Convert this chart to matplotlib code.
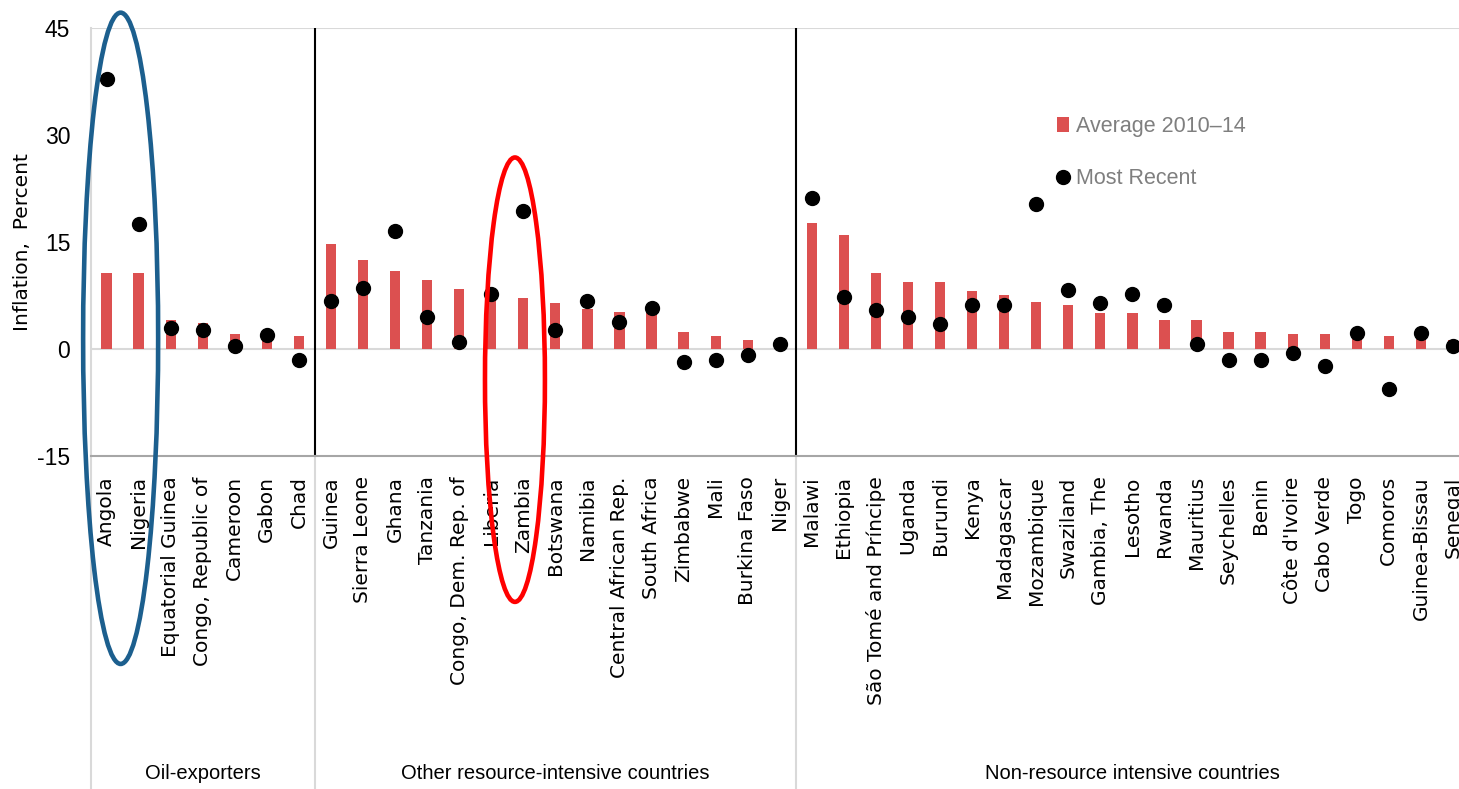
import matplotlib.pyplot as plt
import matplotlib.transforms as mtransforms
from matplotlib.patches import Ellipse

plt.rcParams["axes.unicode_minus"] = False

# Country groups and values (percent)
oil = ["Angola", "Nigeria", "Equatorial Guinea", "Congo, Republic of", "Cameroon", "Gabon", "Chad"]
avg_oil = [10.6, 10.6, 4.0, 3.7, 2.1, 2.0, 1.8]
recent_oil = [37.9, 17.5, 2.9, 2.6, 0.4, 2.0, -1.5]

other = ["Guinea", "Sierra Leone", "Ghana", "Tanzania", "Congo, Dem. Rep. of", "Liberia", "Zambia",
         "Botswana", "Namibia", "Central African Rep.", "South Africa", "Zimbabwe", "Mali",
         "Burkina Faso", "Niger"]
avg_other = [14.7, 12.5, 10.9, 9.7, 8.4, 7.6, 7.2, 6.5, 5.6, 5.2, 5.1, 2.4, 1.8, 1.2, 0.5]
recent_other = [6.7, 8.6, 16.5, 4.5, 1.0, 7.7, 19.3, 2.6, 6.7, 3.8, 5.75, -1.85, -1.5, -0.9, 0.7]

nonres = ["Malawi", "Ethiopia", "São Tomé and Príncipe", "Uganda", "Burundi", "Kenya", "Madagascar",
          "Mozambique", "Swaziland", "Gambia, The", "Lesotho", "Rwanda", "Mauritius", "Seychelles",
          "Benin", "Côte d'Ivoire", "Cabo Verde", "Togo", "Comoros", "Guinea-Bissau", "Senegal"]
avg_nonres = [17.6, 16.0, 10.6, 9.35, 9.35, 8.1, 7.5, 6.55, 6.2, 5.0, 5.0, 4.0, 4.0, 2.45, 2.45,
              2.1, 2.1, 1.8, 1.8, 1.8, 1.2]
recent_nonres = [21.2, 7.35, 5.4, 4.5, 3.5, 6.1, 6.1, 20.3, 8.3, 6.4, 7.7, 6.1, 0.7, -1.5, -1.5,
                 -0.55, -2.45, 2.3, -5.6, 2.3, 0.4]

group_names = ["Oil-exporters", "Other resource-intensive countries", "Non-resource intensive countries"]

countries = oil + other + nonres
avg = avg_oil + avg_other + avg_nonres
recent = recent_oil + recent_other + recent_nonres
sizes = [len(oil), len(other), len(nonres)]
x = list(range(len(countries)))

arial = "Liberation Sans"

fig = plt.figure(figsize=(14.59, 7.89), dpi=100)
ax = fig.add_axes([90.5 / 1459, 1 - 456 / 789, 1378.5 / 1459, 428 / 789])

bars = ax.bar(x, avg, width=0.32, color="#DC5050", zorder=2)
dots, = ax.plot(x, recent, "o", color="black", markersize=10, zorder=3)

ax.set_xlim(-0.5, len(countries) - 0.5)
ax.set_ylim(-15, 45)
ax.set_yticks([-15, 0, 15, 30, 45])
ax.axhline(0, color="#D9D9D9", lw=1.5, zorder=1)
ax.axhline(45, color="#D9D9D9", lw=1.5, zorder=1)

for s in ["top", "right"]:
    ax.spines[s].set_visible(False)
ax.spines["left"].set_color("#D9D9D9")
ax.spines["left"].set_linewidth(1.5)
ax.spines["bottom"].set_color("#A6A6A6")
ax.spines["bottom"].set_linewidth(1.5)

ax.tick_params(axis="y", length=0, pad=14.5)
ax.tick_params(axis="x", length=0, pad=14.5)
for t in ax.get_yticklabels():
    t.set_family(arial)
    t.set_fontsize(16.5)
ax.set_xticks(x)
ax.set_xticklabels(countries, rotation=90, fontsize=14.5, family="DejaVu Sans")

# group separators and labels
trans = mtransforms.blended_transform_factory(ax.transData, ax.transAxes)
edges = [-0.5]
for n in sizes:
    edges.append(edges[-1] + n)
for e in edges[1:-1]:
    ax.axvline(e, color="black", lw=1.5, zorder=1)
for e in edges[:-1]:
    ax.plot([e, e], [0, -0.78], color="#D9D9D9", lw=1.5, transform=trans, clip_on=False)
for i, name in enumerate(group_names):
    mid = (edges[i] + edges[i + 1]) / 2
    ax.text(mid, -0.741, name, transform=trans, ha="center", va="center",
            fontsize=14.5, family=arial)

fig.text(23 / 1459, 1 - 242 / 789, "Inflation,  Percent", rotation=90, ha="center", va="center",
         fontsize=14.5, family="DejaVu Sans")

# highlight ellipses
ax.add_patch(Ellipse((0.44, 1.5), 2.34, 91.3, fill=False, edgecolor="#1C5F8E", lw=3.3,
                     clip_on=False, zorder=5))
ax.add_patch(Ellipse((12.74, -4.3), 1.87, 62.3, fill=False, edgecolor="#FF0000", lw=3.3,
                     clip_on=False, zorder=5))

leg = ax.legend([bars, dots], ["Average 2010\u201314", "Most Recent"],
                loc="upper left", bbox_to_anchor=(1057 / 1459, 1 - 116 / 789),
                bbox_transform=fig.transFigure, frameon=False, borderpad=0, borderaxespad=0,
                prop={"family": arial, "size": 15.5}, labelspacing=1.45,
                handlelength=0.55, handleheight=0.75, handletextpad=0.35)
for t in leg.get_texts():
    t.set_color("#7F7F7F")

fig.savefig("out.png", dpi=100)
